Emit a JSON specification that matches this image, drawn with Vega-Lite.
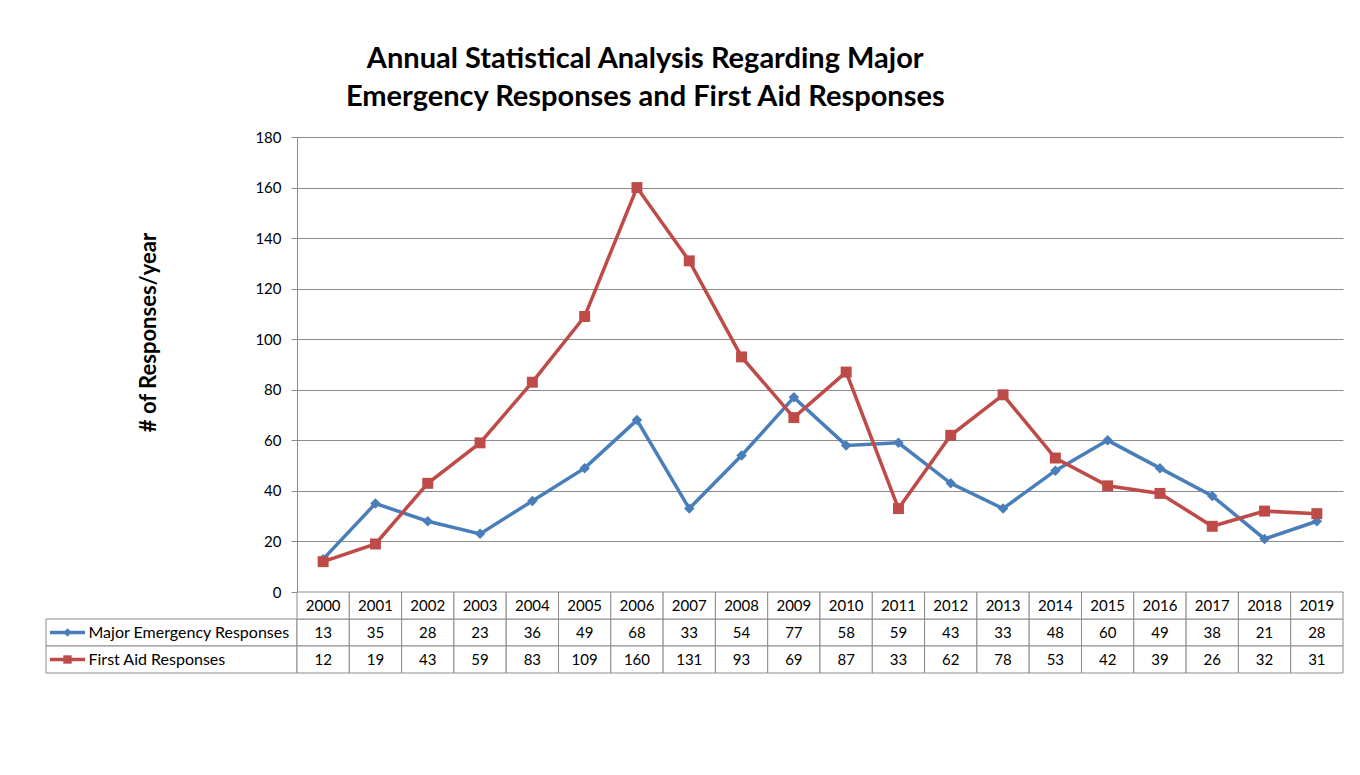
{
  "$schema": "https://vega.github.io/schema/vega-lite/v6.json",
  "padding": {"left": 43, "top": 44, "right": 0, "bottom": 0},
  "background": "white",
  "config": {"font": "Lato", "view": {"stroke": null}},
  "datasets": {
    "d": [
      {"year": "2000", "series": "Major Emergency Responses", "value": 13},
      {"year": "2001", "series": "Major Emergency Responses", "value": 35},
      {"year": "2002", "series": "Major Emergency Responses", "value": 28},
      {"year": "2003", "series": "Major Emergency Responses", "value": 23},
      {"year": "2004", "series": "Major Emergency Responses", "value": 36},
      {"year": "2005", "series": "Major Emergency Responses", "value": 49},
      {"year": "2006", "series": "Major Emergency Responses", "value": 68},
      {"year": "2007", "series": "Major Emergency Responses", "value": 33},
      {"year": "2008", "series": "Major Emergency Responses", "value": 54},
      {"year": "2009", "series": "Major Emergency Responses", "value": 77},
      {"year": "2010", "series": "Major Emergency Responses", "value": 58},
      {"year": "2011", "series": "Major Emergency Responses", "value": 59},
      {"year": "2012", "series": "Major Emergency Responses", "value": 43},
      {"year": "2013", "series": "Major Emergency Responses", "value": 33},
      {"year": "2014", "series": "Major Emergency Responses", "value": 48},
      {"year": "2015", "series": "Major Emergency Responses", "value": 60},
      {"year": "2016", "series": "Major Emergency Responses", "value": 49},
      {"year": "2017", "series": "Major Emergency Responses", "value": 38},
      {"year": "2018", "series": "Major Emergency Responses", "value": 21},
      {"year": "2019", "series": "Major Emergency Responses", "value": 28},
      {"year": "2000", "series": "First Aid Responses", "value": 12},
      {"year": "2001", "series": "First Aid Responses", "value": 19},
      {"year": "2002", "series": "First Aid Responses", "value": 43},
      {"year": "2003", "series": "First Aid Responses", "value": 59},
      {"year": "2004", "series": "First Aid Responses", "value": 83},
      {"year": "2005", "series": "First Aid Responses", "value": 109},
      {"year": "2006", "series": "First Aid Responses", "value": 160},
      {"year": "2007", "series": "First Aid Responses", "value": 131},
      {"year": "2008", "series": "First Aid Responses", "value": 93},
      {"year": "2009", "series": "First Aid Responses", "value": 69},
      {"year": "2010", "series": "First Aid Responses", "value": 87},
      {"year": "2011", "series": "First Aid Responses", "value": 33},
      {"year": "2012", "series": "First Aid Responses", "value": 62},
      {"year": "2013", "series": "First Aid Responses", "value": 78},
      {"year": "2014", "series": "First Aid Responses", "value": 53},
      {"year": "2015", "series": "First Aid Responses", "value": 42},
      {"year": "2016", "series": "First Aid Responses", "value": 39},
      {"year": "2017", "series": "First Aid Responses", "value": 26},
      {"year": "2018", "series": "First Aid Responses", "value": 32},
      {"year": "2019", "series": "First Aid Responses", "value": 31}
    ]
  },
  "title": {
    "text": ["Annual Statistical Analysis Regarding Major", "Emergency Responses and First Aid Responses"],
    "fontSize": 29, "fontWeight": "bold", "lineHeight": 38, "font": "Lato", "color": "#000",
    "anchor": "middle", "dx": -48, "offset": 18.5
  },
  "bounds": "flush",
  "spacing": 0,
  "columns": 2,
  "concat": [
    {
      "width": 251, "height": 455,
      "data": {"values": [{}]},
      "mark": {"type": "text"},
      "encoding": {"text": {"value": ""}}
    },
    {
      "width": 1046, "height": 455,
      "data": {"name": "d"},
      "encoding": {
        "x": {"field": "year", "type": "ordinal", "scale": {"type": "point", "padding": 0.5}, "axis": null},
        "y": {
          "field": "value", "type": "quantitative",
          "scale": {"domain": [0, 180], "nice": false},
          "axis": {
            "values": [0, 20, 40, 60, 80, 100, 120, 140, 160, 180],
            "title": "# of Responses/year", "titleFontSize": 22, "titleFontWeight": "bold", "titleColor": "#000",
            "titleX": -149, "titleY": 195, "titleBaseline": "middle", "titleAngle": -90,
            "labelFontSize": 15, "labelColor": "#000", "labelPadding": 10,
            "tickSize": 6, "tickColor": "#8c8c8c", "domainColor": "#8c8c8c",
            "grid": true, "gridColor": "#8c8c8c", "gridOpacity": 1
          }
        },
        "color": {
          "field": "series", "type": "nominal",
          "scale": {"domain": ["Major Emergency Responses", "First Aid Responses"], "range": ["#4A7EBB", "#BE4B48"]},
          "legend": null
        }
      },
      "layer": [
        {
          "transform": [{"filter": "datum.series == 'Major Emergency Responses'"}],
          "mark": {"type": "line", "strokeWidth": 3.5}
        },
        {
          "transform": [{"filter": "datum.series == 'Major Emergency Responses'"}],
          "mark": {"type": "point", "filled": true, "opacity": 1, "shape": "diamond", "size": 110}
        },
        {
          "transform": [{"filter": "datum.series == 'First Aid Responses'"}],
          "mark": {"type": "line", "strokeWidth": 3.5}
        },
        {
          "transform": [{"filter": "datum.series == 'First Aid Responses'"}],
          "mark": {"type": "point", "filled": true, "opacity": 1, "shape": "square", "size": 120}
        }
      ]
    },
    {
      "width": 251, "height": 81,
      "data": {"name": "d"},
      "transform": [{"filter": "datum.year == '2000'"}],
      "encoding": {
        "y": {
          "field": "series", "type": "nominal",
          "scale": {"domain": ["Year", "Major Emergency Responses", "First Aid Responses"], "paddingInner": 0, "paddingOuter": 0},
          "axis": null
        },
        "color": {
          "field": "series", "type": "nominal",
          "scale": {"domain": ["Major Emergency Responses", "First Aid Responses"], "range": ["#4A7EBB", "#BE4B48"]},
          "legend": null
        }
      },
      "layer": [
        {"mark": {"type": "rect", "fill": "white", "stroke": "#8c8c8c", "strokeWidth": 1}},
        {"mark": {"type": "point", "shape": "stroke", "size": 1225, "strokeWidth": 3.5, "opacity": 1, "xOffset": -104}},
        {
          "mark": {"type": "point", "filled": true, "opacity": 1, "size": 70, "xOffset": -104},
          "encoding": {
            "shape": {"field": "series", "type": "nominal", "scale": {"domain": ["Major Emergency Responses", "First Aid Responses"], "range": ["diamond", "square"]}, "legend": null}
          }
        },
        {
          "mark": {"type": "text", "align": "left", "dx": -83, "fontSize": 16},
          "encoding": {"text": {"field": "series"}, "color": {"value": "#000"}}
        }
      ]
    },
    {
      "width": 1046, "height": 81,
      "data": {"name": "d"},
      "encoding": {
        "x": {"field": "year", "type": "ordinal", "scale": {"type": "band", "paddingInner": 0, "paddingOuter": 0}, "axis": null}
      },
      "layer": [
        {
          "mark": {"type": "rect", "fill": "white", "stroke": "#8c8c8c", "strokeWidth": 1},
          "encoding": {
            "y": {
              "field": "series", "type": "nominal",
              "scale": {"domain": ["Year", "Major Emergency Responses", "First Aid Responses"], "paddingInner": 0, "paddingOuter": 0},
              "axis": null
            }
          }
        },
        {
          "transform": [{"filter": "datum.series == 'Major Emergency Responses'"}],
          "mark": {"type": "rect", "fill": "white", "stroke": "#8c8c8c", "strokeWidth": 1},
          "encoding": {"y": {"datum": "Year", "type": "nominal"}}
        },
        {
          "mark": {"type": "text", "fontSize": 15, "color": "#000"},
          "encoding": {
            "y": {"field": "series", "type": "nominal"},
            "text": {"field": "value", "type": "quantitative"}
          }
        },
        {
          "transform": [{"filter": "datum.series == 'Major Emergency Responses'"}],
          "mark": {"type": "text", "fontSize": 15, "color": "#000"},
          "encoding": {
            "y": {"datum": "Year", "type": "nominal"},
            "text": {"field": "year", "type": "nominal"}
          }
        }
      ]
    }
  ]
}
